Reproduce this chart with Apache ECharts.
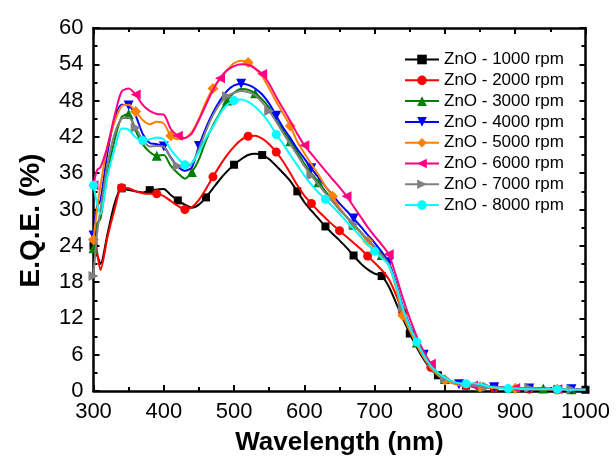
<!DOCTYPE html>
<html>
<head>
<meta charset="utf-8">
<script src="https://cdn.jsdelivr.net/npm/echarts@6/dist/echarts.min.js"></script>
<style>html,body{margin:0;padding:0;background:#fff}#c{width:616px;height:461px}</style>
</head>
<body>
<div id="c"></div>
<script>
// Wavelength grid (nm)
const wavelengths = [300,305,310,320,330,340,350,360,370,380,390,400,410,420,430,440,450,460,470,480,490,500,510,520,530,540,550,560,570,580,590,600,610,620,630,640,650,660,670,680,690,700,710,720,730,740,750,760,770,780,790,800,810,820,830,840,850,860,870,880,890,900,920,940,960,980,1000];

const seriesNames = ['ZnO - 1000 rpm','ZnO - 2000 rpm','ZnO - 3000 rpm','ZnO - 4000 rpm','ZnO - 5000 rpm','ZnO - 6000 rpm','ZnO - 7000 rpm','ZnO - 8000 rpm'];

const eqe1000 = [24,22.5,21,26,31,33.5,33.2,33,32.8,33.2,33.3,33.4,32.4,31.5,30.8,30.3,30.8,32,33.5,35,36.3,37.4,38.3,39,39.2,39,38.3,37.2,36,34.7,33,31.2,29.8,28.5,27.2,26,24.9,23.7,22.4,21.1,20.1,19.4,19,17.3,14.7,12,9.5,7.2,5.2,3.6,2.6,1.9,1.4,1.1,0.9,0.8,0.7,0.6,0.6,0.5,0.5,0.5,0.4,0.3,0.3,0.2,0.2];
const eqe2000 = [26,23,20,25.5,30,33.6,33.5,33,32.7,32.6,32.6,32.2,31.4,30.6,30,30.4,31.6,33.4,35.4,37.3,39,40.4,41.5,42.1,42.2,41.7,40.8,39.5,37.9,36,34,32.3,31,29.7,28.6,27.5,26.5,25.5,24.5,23.5,22.3,21.2,20,18.5,16,13,10.2,7.7,5.6,3.9,2.8,2,1.5,1.1,0.9,0.8,0.7,0.6,0.5,0.5,0.4,0.4,0.3,0.3,0.2,0.2,0.2];
const eqe3000 = [23.6,27.7,28.5,36,41.5,45.3,45.8,43,40.8,39.5,38.9,39,37.2,36,35.1,36.2,38.3,41.4,43.9,46,48,49.3,49.9,49.8,49.2,48.2,46.8,44.8,43,41.3,39.5,37.6,36,34.5,33,31.5,30,28.8,27.5,26.3,25,23.8,22.5,21,17.5,13.5,10.5,8,5.8,4,2.8,2,1.5,1.2,1,0.9,0.8,0.7,0.8,0.6,0.5,0.5,0.4,0.4,0.3,0.3,0.2];
const eqe4000 = [25.7,30.5,31.5,39.5,45,47.3,47.2,45.5,42.5,41,40.8,40.4,38.6,37.1,36.4,37,40.5,43.5,46,48,49.6,50.5,50.8,50.6,50,49,47.5,45.5,43.5,41.8,40,38.4,36.8,35.3,33.8,32.4,31,29.8,28.5,27.2,25.8,24.5,23,21.3,18,14,10.8,8.2,6,4.1,2.9,2.1,1.5,1.1,0.8,0.8,0.7,0.7,0.6,0.6,0.5,0.5,0.4,0.4,0.3,0.3,0.2];
const eqe5000 = [25,30,34,40.5,44.5,47.1,47.3,46.2,44.8,44.1,44.5,44.2,42.2,41.6,41.8,42.8,45,47.8,50,51.6,53,54.2,54.6,54.3,53.3,52,50,47.8,45.8,43.8,41.2,39.3,37.5,35.8,33.8,32.2,30.3,28.8,27.4,26.1,24.8,23.5,22.3,20.8,17.3,12.5,10,7.6,5.5,3.8,2.6,1.8,1.3,1,0.8,0.7,0.6,0.6,0.5,0.5,0.5,0.4,0.4,0.3,0.3,0.3,0.2];
const eqe6000 = [34,36.5,37,40.5,45.5,49.5,50,49,47.3,46.3,45.8,45.7,43.3,42.2,41.8,42.6,44.8,47.3,49.8,51.7,53,53.7,54,53.9,53.3,52.4,50.8,48.6,46.6,44.6,42.5,40.6,39.2,37.8,36.4,35,33.7,32.2,30.5,28.8,27.1,25.6,24.2,22.6,19.2,15.4,12,9,6.5,4.5,3,2.2,1.6,1.2,1,0.9,0.8,0.7,0.7,0.6,0.6,0.5,0.5,0.4,0.3,0.3,0.2];
const eqe7000 = [19,26,30,37.5,42.5,45,45.2,43.5,41.5,40.4,40.5,40.4,38.5,37.2,36.9,37.6,40,43,45.6,47.5,48.7,49.3,49.6,49.4,48.9,47.7,46.3,44.5,42.6,40.8,39,37.2,35.6,34.1,32.7,31.3,30,28.8,27.6,26.3,25,23.8,22.5,21,17.8,13.8,10.7,8.1,5.9,4.1,2.9,2.1,1.6,1.2,1,0.9,0.8,0.7,0.7,0.6,0.6,0.5,0.5,0.4,0.4,0.3,0.3];
const eqe8000 = [34,31,29.2,35.5,40,43.4,43.2,41.9,41.4,41.6,41.9,41.6,39.9,38.5,37.4,37.7,39.5,41.8,43.7,45.8,47.3,48,48.2,47.8,47,45.8,44.3,42.4,40.8,39,37.3,35.6,34.1,32.8,31.7,30.5,29.3,28,26.8,25.5,24.2,23.1,22,20.8,17.6,13.6,10.6,8.1,5.9,4.1,3,2.2,1.6,1.3,1.2,1.3,1.1,0.8,0.6,0.5,0.4,0.4,0.3,0.3,0.3,0.2,0.2];

// wavelengths at which markers are drawn for each curve
const markers1000 = [300,340,380,420,460,500,540,590,630,670,710,750,790,830,870,920,960,1000];
const markers2000 = [340,390,430,470,520,560,610,650,690,740,780,830,870,920,960];
const markers3000 = [300,350,390,440,490,530,580,620,670,710,760,800,850,900,940,980];
const markers4000 = [300,350,400,450,510,560,610,670,720,770,820,870,920,980];
const markers5000 = [300,360,410,470,520,580,640,690,740,800,850,900,960];
const markers6000 = [300,360,420,480,540,600,660,720,780,840,900,960];
const markers7000 = [300,360,420,490,550,610,670,740,800,860,920,980];
const markers8000 = [300,370,430,500,560,630,700,760,830,890,960];

const xTicks = [300,400,500,600,700,800,900,1000];
const yTicks = [0,6,12,18,24,30,36,42,48,54,60];

const allValues = [eqe1000,eqe2000,eqe3000,eqe4000,eqe5000,eqe6000,eqe7000,eqe8000];
const allMarkers = [markers1000,markers2000,markers3000,markers4000,markers5000,markers6000,markers7000,markers8000];
const colors = ['#000000','#ff0000','#008000','#0000ff','#ff8000','#ff0080','#808080','#00ffff'];
const symbols = ['rect','circle','triangle','triangle','diamond','triangle','triangle','circle'];
const rotates = [0,0,0,180,0,90,-90,0];
const sizes = [8,9,10,10,11,10,10,9];

const FONT = 'Arial, "Liberation Sans", sans-serif';

const series = seriesNames.map((name, k) => ({
  name: name,
  type: 'line',
  smooth: 0.25,
  symbol: symbols[k],
  symbolSize: sizes[k],
  symbolRotate: rotates[k],
  color: colors[k],
  lineStyle: {width: 2, color: colors[k]},
  itemStyle: {color: colors[k]},
  z: 2 + k,
  data: wavelengths.map((w, i) => {
    const item = {value: [w, allValues[k][i]]};
    if (allMarkers[k].indexOf(w) < 0) item.symbol = 'none';
    return item;
  })
}));

const axisCommon = {
  axisLine: {show: true, onZero: false, lineStyle: {color: '#000', width: 2.5}},
  axisTick: {show: true, inside: true, length: 6, lineStyle: {color: '#000', width: 2}},
  minorTick: {show: true, splitNumber: 2, length: 4, lineStyle: {color: '#000', width: 2}},
  splitLine: {show: false},
  minorSplitLine: {show: false}
};

const chart = echarts.init(document.getElementById('c'), null, {renderer: 'canvas'});
chart.setOption({
  animation: false,
  backgroundColor: '#fff',
  grid: {left: 93.5, right: 30.5, top: 28, bottom: 67, containLabel: false},
  legend: {
    orient: 'vertical',
    left: 404,
    top: 51,
    padding: 0,
    itemWidth: 34,
    itemHeight: 12,
    itemGap: 3.8,
    textStyle: {fontFamily: FONT, fontSize: 17, color: '#000', lineHeight: 17},
    data: seriesNames
  },
  xAxis: [
    Object.assign({
      type: 'value', min: xTicks[0], max: xTicks[xTicks.length-1], interval: xTicks[1]-xTicks[0],
      position: 'bottom',
      name: 'Wavelength (nm)', nameLocation: 'middle', nameGap: 39,
      nameTextStyle: {fontFamily: FONT, fontSize: 26, fontWeight: 'bold', color: '#000'},
      axisLabel: {fontFamily: FONT, fontSize: 22, color: '#000', margin: 10, formatter: v => String(v)}
    }, axisCommon),
    Object.assign({
      type: 'value', min: xTicks[0], max: xTicks[xTicks.length-1], interval: xTicks[1]-xTicks[0],
      position: 'top', axisLabel: {show: false}
    }, axisCommon)
  ],
  yAxis: [
    Object.assign({
      type: 'value', min: yTicks[0], max: yTicks[yTicks.length-1], interval: yTicks[1]-yTicks[0],
      position: 'left',
      name: 'E.Q.E. (%)', nameLocation: 'middle', nameGap: 48, nameRotate: 90,
      nameTextStyle: {fontFamily: FONT, fontSize: 28, fontWeight: 'bold', color: '#000', padding: [0, 22, 0, 0]},
      axisLabel: {fontFamily: FONT, fontSize: 22, color: '#000', margin: 10, formatter: v => String(v)}
    }, axisCommon),
    Object.assign({
      type: 'value', min: yTicks[0], max: yTicks[yTicks.length-1], interval: yTicks[1]-yTicks[0],
      position: 'right', axisLabel: {show: false}
    }, axisCommon)
  ],
  series: series
});
</script>
</body>
</html>
